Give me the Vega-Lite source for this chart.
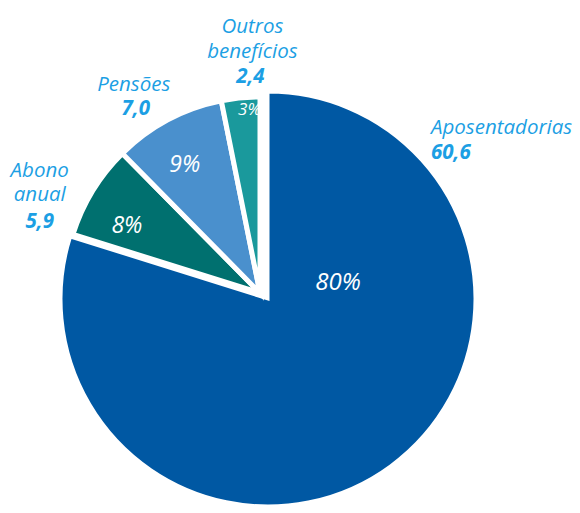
{
  "$schema": "https://vega.github.io/schema/vega-lite/v6.json",
  "width": 414,
  "height": 414,
  "autosize": {"type": "none"},
  "padding": {"left": 61, "right": 105, "top": 92, "bottom": 7},
  "background": "white",
  "config": {
    "view": {"stroke": null},
    "locale": {"number": {"decimal": ",", "thousands": ".", "grouping": [3], "currency": ["R$", ""]}}
  },
  "data": {
    "values": [
      {"categoria": "Aposentadorias", "valor": 60.6, "participacao": 0.80, "ordem": 1},
      {"categoria": "Abono anual", "valor": 5.9, "participacao": 0.08, "ordem": 2},
      {"categoria": "Pensões", "valor": 7.0, "participacao": 0.09, "ordem": 3},
      {"categoria": "Outros benefícios", "valor": 2.4, "participacao": 0.03, "ordem": 4}
    ]
  },
  "encoding": {
    "theta": {"field": "valor", "type": "quantitative", "stack": true},
    "order": {"field": "ordem", "type": "quantitative"}
  },
  "layer": [
    {
      "mark": {"type": "arc", "outerRadius": 207, "stroke": "white", "strokeWidth": 3},
      "encoding": {
        "color": {
          "field": "categoria", "type": "nominal", "legend": null,
          "scale": {"domain": ["Aposentadorias", "Abono anual", "Pensões", "Outros benefícios"], "range": ["#0058A3", "#00706F", "#4A90CD", "#1A999C"]}
        },
        "opacity": {"condition": {"test": "datum.categoria === 'Aposentadorias'", "value": 1}, "value": 0}
      }
    },
    {
      "mark": {"type": "arc", "outerRadius": 196, "stroke": "white", "strokeWidth": 5, "xOffset": -8, "yOffset": -6},
      "encoding": {
        "color": {"field": "categoria", "type": "nominal", "legend": null},
        "opacity": {"condition": {"test": "datum.categoria === 'Aposentadorias'", "value": 0}, "value": 1}
      }
    },
    {
      "mark": {"type": "text", "radius": 149, "fill": "white", "font": "Open Sans", "fontStyle": "italic", "fontSize": 23, "dx": -14, "dy": 5},
      "encoding": {
        "text": {"condition": {"test": "datum.categoria === 'Abono anual'", "field": "participacao", "type": "quantitative", "format": ".0%"}, "value": ""}
      }
    },
    {
      "mark": {"type": "text", "radius": 152, "fill": "white", "font": "Open Sans", "fontStyle": "italic", "fontSize": 23, "dx": -12, "dy": 0},
      "encoding": {
        "text": {"condition": {"test": "datum.categoria === 'Pensões'", "field": "participacao", "type": "quantitative", "format": ".0%"}, "value": ""}
      }
    },
    {
      "mark": {"type": "text", "radius": 186, "fill": "white", "font": "Open Sans", "fontStyle": "italic", "fontSize": 17, "dx": 0, "dy": -4},
      "encoding": {
        "text": {"condition": {"test": "datum.categoria === 'Outros benefícios'", "field": "participacao", "type": "quantitative", "format": ".0%"}, "value": ""}
      }
    },
    {
      "mark": {"type": "text", "radius": 0, "fill": "white", "font": "Open Sans", "fontStyle": "italic", "fontSize": 24, "dx": 70, "dy": -16},
      "encoding": {
        "text": {"condition": {"test": "datum.categoria === 'Aposentadorias'", "field": "participacao", "type": "quantitative", "format": ".0%"}, "value": ""}
      }
    },
    {
      "mark": {"type": "text", "radius": 0, "fill": "#1C9FE4", "font": "Open Sans", "fontStyle": "italic", "fontSize": 20.5, "align": "left", "dx": 163, "dy": -171},
      "encoding": {
        "text": {"condition": {"test": "datum.categoria === 'Aposentadorias'", "field": "categoria", "type": "nominal"}, "value": ""}
      }
    },
    {
      "mark": {"type": "text", "radius": 0, "fill": "#1C9FE4", "font": "Open Sans", "fontStyle": "italic", "fontWeight": "bold", "fontSize": 20.5, "align": "left", "dx": 163, "dy": -146},
      "encoding": {
        "text": {"condition": {"test": "datum.categoria === 'Aposentadorias'", "field": "valor", "type": "quantitative", "format": ".1f"}, "value": ""}
      }
    },
    {
      "mark": {"type": "text", "radius": 228, "fill": "#1C9FE4", "font": "Open Sans", "fontStyle": "italic", "fontSize": 20.5, "lineBreak": " ", "lineHeight": 25, "dx": 7, "dy": -45},
      "encoding": {
        "text": {"condition": {"test": "datum.categoria === 'Outros benefícios'", "field": "categoria", "type": "nominal"}, "value": ""}
      }
    },
    {
      "mark": {"type": "text", "radius": 228, "fill": "#1C9FE4", "font": "Open Sans", "fontStyle": "italic", "fontWeight": "bold", "fontSize": 20.5, "dx": 5, "dy": 5},
      "encoding": {
        "text": {"condition": {"test": "datum.categoria === 'Outros benefícios'", "field": "valor", "type": "quantitative", "format": ".1f"}, "value": ""}
      }
    },
    {
      "mark": {"type": "text", "radius": 220, "fill": "#1C9FE4", "font": "Open Sans", "fontStyle": "italic", "fontSize": 20.5, "dx": -31, "dy": -20},
      "encoding": {
        "text": {"condition": {"test": "datum.categoria === 'Pensões'", "field": "categoria", "type": "nominal"}, "value": ""}
      }
    },
    {
      "mark": {"type": "text", "radius": 220, "fill": "#1C9FE4", "font": "Open Sans", "fontStyle": "italic", "fontWeight": "bold", "fontSize": 20.5, "dx": -29, "dy": 4},
      "encoding": {
        "text": {"condition": {"test": "datum.categoria === 'Pensões'", "field": "valor", "type": "quantitative", "format": ".1f"}, "value": ""}
      }
    },
    {
      "mark": {"type": "text", "radius": 230, "fill": "#1C9FE4", "font": "Open Sans", "fontStyle": "italic", "fontSize": 20.5, "lineBreak": " ", "lineHeight": 24, "dx": -32, "dy": -8},
      "encoding": {
        "text": {"condition": {"test": "datum.categoria === 'Abono anual'", "field": "categoria", "type": "nominal"}, "value": ""}
      }
    },
    {
      "mark": {"type": "text", "radius": 230, "fill": "#1C9FE4", "font": "Open Sans", "fontStyle": "italic", "fontWeight": "bold", "fontSize": 20.5, "dx": -32, "dy": 43},
      "encoding": {
        "text": {"condition": {"test": "datum.categoria === 'Abono anual'", "field": "valor", "type": "quantitative", "format": ".1f"}, "value": ""}
      }
    }
  ]
}
